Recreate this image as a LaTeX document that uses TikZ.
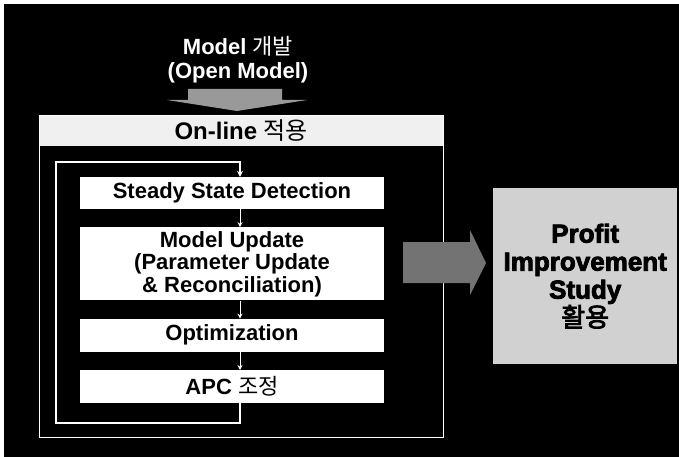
\documentclass[tikz,border=0pt]{standalone}
\usepackage{fontspec}
\setmainfont{Liberation Sans}
\newfontfamily\krfont{Noto Sans CJK KR}
\newfontfamily\krheavy[FakeBold=3]{Noto Sans CJK KR}
\newfontfamily\heavyfont[FakeBold=3]{Liberation Sans Bold}
\usetikzlibrary{arrows.meta,positioning,chains}

\begin{document}
\begin{tikzpicture}[%
    x=1pt, y=-1pt,                 % one unit = one pixel, y runs downward
    start chain=going below,       % the step boxes run top-to-bottom
    node distance=18pt,
    stepbox/.style={on chain, fill=white, minimum width=304pt, inner sep=0pt,
      align=center, font=\fontsize{22}{22.5}\selectfont\bfseries},
    flow/.style={white, line width=1pt, -{Stealth[length=5pt,width=5pt]}},
    loopline/.style={white, line width=1.5pt, -{Stealth[length=6pt,width=6pt]}}]
% -------------------------------------------------
% page and background
\useasboundingbox (0,0) rectangle (679,457);
\fill[white] (0,0) rectangle (679,457);
\fill[black] (4,4) rectangle (679,457);

% -------------------------------------------------
% title and the grey arrow into the on-line box
\node[text=white, align=center, font=\fontsize{22}{24}\selectfont\bfseries]
  (title) at (238,60) {Model {\krfont\mdseries 개발}\\(Open Model)};
\coordinate (dn) at (237,89);
\fill[black!40] (dn) ++(-49,0) -- ++(94,0) -- ++(0,11) -- ++(25,0)
  -- ++(-70,11) -- ++(-70,-11) -- ++(21,0) -- cycle;

% -------------------------------------------------
% on-line box with its header band
\node[draw=white, line width=1.2pt, minimum width=404pt, minimum height=322pt,
  anchor=north west] (online) at (39,115) {};
\node[fill=black!6, minimum width=403pt, minimum height=30pt, inner sep=0pt,
  anchor=north west, font=\fontsize{24}{25}\selectfont\bfseries]
  (band) at ([shift={(0.6,0.6)}]online.north west)
  {On-line {\krfont\mdseries 적용}};

% -------------------------------------------------
% the step boxes
\node[stepbox, minimum height=32pt] (ssd) at (232,193) {Steady State Detection};
\node[stepbox, minimum height=73pt] (upd)
  {Model Update\\(Parameter Update\\\&~Reconciliation)};
\node[stepbox, minimum height=33pt] (opt) {Optimization};
\node[stepbox, minimum height=33pt] (apc) {APC {\krfont\mdseries 조정}};

\draw[flow] ([xshift=8pt]ssd.south) -- ([xshift=8pt]upd.north);
\draw[flow] ([xshift=8pt]upd.south) -- ([xshift=8pt]opt.north);
\draw[flow] ([xshift=8pt]opt.south) -- ([xshift=8pt]apc.north);

% loop back from the last step to the first
\coordinate (lcorner) at (56,423);
\coordinate (ltop) at (56,162);
\draw[loopline] ([xshift=8pt]apc.south) |- (lcorner) -- (ltop)
  -| ([xshift=8pt]ssd.north);

% -------------------------------------------------
% grey arrow to the profit box
\coordinate (garrow) at (403,263);
\fill[black!55] (garrow) ++(0,-21) -- ++(67,0) -- ++(0,-12) -- ++(16,33)
  -- ++(-16,32) -- ++(0,-12) -- ++(-67,0) -- cycle;

\node[fill=black!18, minimum width=184pt, minimum height=176pt, anchor=north west,
  align=center, font=\fontsize{26}{28}\selectfont\heavyfont]
  (profit) at (493,188) {Profit\\Improvement\\Study\\{\krheavy 활용}};
\end{tikzpicture}
\end{document}
